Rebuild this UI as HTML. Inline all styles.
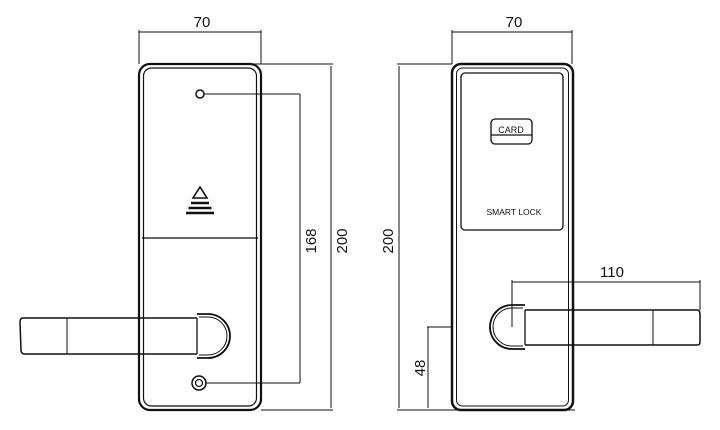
<!DOCTYPE html>
<html><head><style>body{margin:0;background:#fff}svg{display:block}text{font-family:"Liberation Sans",sans-serif;fill:#111}</style></head><body>
<svg width="720" height="430" viewBox="0 0 720 430" xmlns="http://www.w3.org/2000/svg" fill="none" stroke="#111">
<!-- LEFT LOCK -->
<line x1="139" y1="30" x2="139" y2="64" stroke-width="1"/>
<line x1="261" y1="30" x2="261" y2="64" stroke-width="1"/>
<line x1="139" y1="32" x2="261" y2="32" stroke-width="1"/>
<text x="202" y="27" font-size="15" text-anchor="middle" stroke="none">70</text>
<rect x="139" y="64" width="122" height="346" rx="11" stroke-width="2.2"/>
<rect x="143.5" y="68" width="113" height="338" rx="8" stroke-width="1.2"/>
<line x1="142" y1="238" x2="258" y2="238" stroke-width="1.3"/>
<circle cx="200" cy="94" r="4" stroke-width="1.5"/>
<line x1="204" y1="94" x2="300" y2="94" stroke-width="1"/>
<line x1="300" y1="94" x2="300" y2="383" stroke-width="1"/>
<line x1="206" y1="383" x2="300" y2="383" stroke-width="1"/>
<circle cx="199" cy="383" r="7" stroke-width="1.5"/>
<circle cx="199" cy="383" r="3.5" stroke-width="1.3"/>
<text transform="translate(316,241) rotate(-90)" font-size="15" text-anchor="middle" stroke="none">168</text>
<line x1="250" y1="64" x2="333" y2="64" stroke-width="1"/>
<line x1="261" y1="410" x2="333" y2="410" stroke-width="1"/>
<line x1="331" y1="66" x2="331" y2="408" stroke-width="1"/>
<text transform="translate(347,241) rotate(-90)" font-size="15" text-anchor="middle" stroke="none">200</text>
<!-- triangle icon -->
<path d="M200 187 L193 198 L207 198 Z" stroke-width="1.6"/>
<line x1="191" y1="203" x2="209" y2="203" stroke-width="2.6"/>
<line x1="188.5" y1="208" x2="211.5" y2="208" stroke-width="2.6"/>
<line x1="186" y1="213" x2="214" y2="213" stroke-width="2.6"/>
<!-- handle left -->
<path d="M197 318 L23 318 Q20 318 20 322 L21 350 Q21 354 25 354 L197 354" stroke-width="1.5"/>
<line x1="67" y1="318" x2="67" y2="354" stroke-width="1"/>
<line x1="197" y1="318" x2="197" y2="354" stroke-width="1.3"/>
<path d="M197 314 L208 314 A22 22 0 0 1 208 358 L197 358" stroke-width="1.8"/>
<path d="M199 317 L208 317 A19 19 0 0 1 208 355 L199 355" stroke-width="1"/>
<!-- RIGHT LOCK -->
<line x1="452" y1="30" x2="452" y2="64" stroke-width="1"/>
<line x1="572" y1="30" x2="572" y2="64" stroke-width="1"/>
<line x1="452" y1="32" x2="572" y2="32" stroke-width="1"/>
<text x="514" y="27" font-size="15" text-anchor="middle" stroke="none">70</text>
<rect x="452" y="64" width="121" height="346" rx="9" stroke-width="2.5"/>
<rect x="456.5" y="68" width="112" height="338" rx="6" stroke-width="1"/>
<rect x="461" y="73" width="102" height="157" rx="4" stroke-width="1.3"/>
<rect x="491" y="119" width="41" height="25" rx="4" stroke-width="1.3"/>
<line x1="491" y1="135" x2="532" y2="135" stroke-width="1.2"/>
<text x="511" y="133" font-size="9" text-anchor="middle" stroke="none">CARD</text>
<text x="514" y="215" font-size="8.5" text-anchor="middle" stroke="none">SMART LOCK</text>
<line x1="397" y1="64" x2="452" y2="64" stroke-width="1"/>
<line x1="397" y1="410" x2="575" y2="410" stroke-width="1"/>
<line x1="399" y1="66" x2="399" y2="408" stroke-width="1"/>
<text transform="translate(393,241) rotate(-90)" font-size="15" text-anchor="middle" stroke="none">200</text>
<line x1="427" y1="327" x2="451" y2="327" stroke-width="1"/>
<line x1="428" y1="327" x2="428" y2="408" stroke-width="1"/>
<text transform="translate(425,368) rotate(-90)" font-size="15" text-anchor="middle" stroke="none">48</text>
<!-- handle right -->
<path d="M525 310 L697 310 Q700 310 700 314 L700 342 Q700 345 697 345 L525 345" stroke-width="1.5"/>
<line x1="525" y1="310" x2="525" y2="345" stroke-width="1.3"/>
<line x1="653" y1="310" x2="653" y2="345" stroke-width="1"/>
<path d="M525 305 L512 305 A22 22 0 0 0 512 349 L525 349" stroke-width="1.8"/>
<path d="M523 308 L512 308 A19 19 0 0 0 512 346 L523 346" stroke-width="1"/>
<line x1="512" y1="282" x2="700" y2="282" stroke-width="1"/>
<line x1="512" y1="280" x2="512" y2="327" stroke-width="1"/>
<line x1="700" y1="280" x2="700" y2="310" stroke-width="1"/>
<text x="612" y="277" font-size="15" text-anchor="middle" stroke="none">110</text>
</svg>
</body></html>
